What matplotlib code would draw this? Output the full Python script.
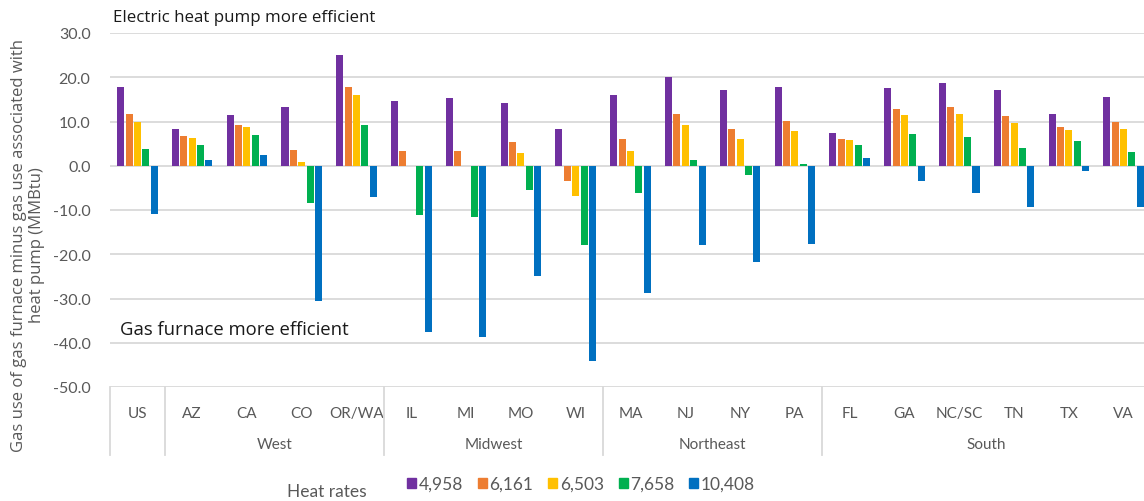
import matplotlib.pyplot as plt
from matplotlib.patches import Patch
from matplotlib.transforms import blended_transform_factory
import numpy as np

# states / regions along the category axis
states = ['US', 'AZ', 'CA', 'CO', 'OR/WA', 'IL', 'MI', 'MO', 'WI',
          'MA', 'NJ', 'NY', 'PA', 'FL', 'GA', 'NC/SC', 'TN', 'TX', 'VA']
regions = ['West', 'Midwest', 'Northeast', 'South']
region_sizes = [4, 4, 4, 6]

heat_rates = ['4,958', '6,161', '6,503', '7,658', '10,408']
colors = ['#7030A0', '#ED7D31', '#FFC000', '#00B050', '#0070C0']

# gas use difference (MMBtu), one list per heat rate
hr_4958 = [17.9, 8.2, 11.4, 13.3, 25.0, 14.7, 15.3, 14.1, 8.2, 16.1, 20.0, 17.1, 17.9, 7.3, 17.5, 18.8, 17.1, 11.6, 15.6]
hr_6161 = [11.6, 6.7, 9.2, 3.5, 17.9, 3.3, 3.3, 5.4, -3.5, 6.0, 11.6, 8.4, 10.1, 6.0, 12.8, 13.3, 11.2, 8.8, 10.0]
hr_6503 = [9.9, 6.3, 8.8, 0.8, 16.0, 0.0, 0.0, 2.9, -6.8, 3.3, 9.2, 6.0, 7.8, 5.8, 11.5, 11.8, 9.7, 8.0, 8.4]
hr_7658 = [3.8, 4.8, 6.9, -8.4, 9.2, -11.2, -11.5, -5.5, -17.9, -6.1, 1.2, -2.1, 0.4, 4.6, 7.2, 6.6, 4.0, 5.5, 3.1]
hr_10408 = [-10.8, 1.2, 2.5, -30.5, -7.0, -37.5, -38.7, -25.0, -44.2, -28.8, -17.8, -21.7, -17.6, 1.8, -3.5, -6.1, -9.4, -1.1, -9.4]
series = [hr_4958, hr_6161, hr_6503, hr_7658, hr_10408]

W, H = 1144, 502
fig = plt.figure(figsize=(W / 100, H / 100), dpi=100)
ax = fig.add_axes([110 / W, 1 - 388 / H, (1151 - 110) / W, (388 - 34) / H])

x = np.arange(len(states))
step = 0.153
for j, (vals, c) in enumerate(zip(series, colors)):
    ax.bar(x + (j - 2) * step, vals, width=0.128, color=c, zorder=3)

ax.set_xlim(-0.5, len(states) - 0.5)
ax.set_ylim(-50, 30)
ax.set_yticks(np.arange(-50, 31, 10))
ax.set_yticklabels([f'{v:.1f}' for v in np.arange(-50, 31, 10)],
                   fontsize=11.5, color='#595959', family='Lato')
ax.yaxis.grid(True, color='#d9d9d9', linewidth=1.3, zorder=0)
ax.tick_params(axis='y', length=0, pad=14)
for s in ax.spines.values():
    s.set_visible(False)

# category axis: state labels, region labels and separators
ax.set_xticks(x)
ax.set_xticklabels(states, fontsize=11, color='#595959', family='Lato')
ax.tick_params(axis='x', length=0, pad=14)

trans = blended_transform_factory(ax.transData, ax.transAxes)
sep_bottom = -(456 - 388) / (388 - 34)
bounds = [-0.5, 0.5]
for n in region_sizes:
    bounds.append(bounds[-1] + n)
for b in bounds:
    ax.plot([b, b], [0, sep_bottom], transform=trans, color='#d9d9d9',
            linewidth=1.3, clip_on=False)
for i, r in enumerate(regions):
    mid = (bounds[i + 1] + bounds[i + 2]) / 2
    ax.text(mid, -(445 - 388) / (388 - 34), r, transform=trans, ha='center', va='center',
            fontsize=11, color='#595959', family='Lato')

ax.text(113 / W, 1 - 18 / H, 'Electric heat pump more efficient', transform=fig.transFigure,
        fontsize=12.2, color='#1a1a1a', family='Open Sans', va='center')
ax.text(120 / W, 1 - 330 / H, 'Gas furnace more efficient', transform=fig.transFigure,
        fontsize=13.3, color='#1a1a1a', family='Open Sans', va='center')

fig.text(28 / W, 1 - 245 / H,
         'Gas use of gas furnace minus gas use associated with\nheat pump (MMBtu)',
         rotation=90, ha='center', va='center', multialignment='center',
         fontsize=12, color='#595959', family='Open Sans', linespacing=1.1)

handles = [Patch(color=c) for c in colors]
fig.legend(handles, heat_rates, loc='center', bbox_to_anchor=(581 / W, 1 - 485 / H),
           ncol=5, frameon=False, handlelength=0.52, handleheight=0.52, handletextpad=0.15,
           columnspacing=0.85, prop={'family': 'Lato', 'size': 12.5}, labelcolor='#595959')
fig.text(327 / W, 1 - 492 / H, 'Heat rates', ha='center', va='center',
         fontsize=12.5, color='#595959', family='Lato')

fig.savefig('out.png', dpi=100)
